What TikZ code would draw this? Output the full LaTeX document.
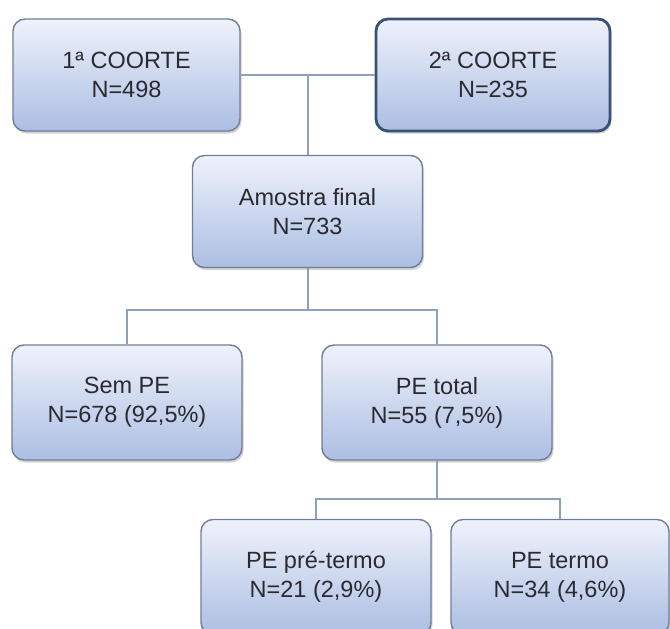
\documentclass[tikz,border=0pt]{standalone}
\usepackage{fontspec}
\setmainfont{Liberation Sans}
\usetikzlibrary{shadows,positioning}
\definecolor{boxtop}{RGB}{238,242,251}
\definecolor{boxbot}{RGB}{172,190,227}
\definecolor{boxline}{RGB}{112,126,152}
\definecolor{boxdark}{RGB}{58,82,118}
\definecolor{wirecol}{RGB}{142,160,188}
\definecolor{txt}{RGB}{42,42,48}

\begin{document}
\begin{tikzpicture}[
    x=1pt, y=-1pt,
    %
    block/.style={draw=boxline, line width=1.4pt, rectangle, rounded corners=12pt,
                  top color=boxtop, bottom color=boxbot,
                  minimum width=230pt, minimum height=112pt,
                  align=center, text=txt, font=\fontsize{23.5}{29}\selectfont,
                  drop shadow={shadow xshift=1.5pt, shadow yshift=-2.5pt, opacity=0.35}},
    dark/.style={draw=boxdark, line width=2.8pt},
    %
    wire/.style={draw=wirecol, line width=2pt}
    ]

    \useasboundingbox (0,0) rectangle (670,629);

    \node[block, minimum width=227pt] (coorte1) at (126.5,75) {1ª COORTE\\N=498};
    \node[block, dark, minimum width=234pt] (coorte2) at (493,75) {2ª COORTE\\N=235};
    \node[block] (amostra) at (307.5,211.5) {Amostra final\\N=733};
    %
    \node[block, minimum height=115pt] (sempe) at (127,402.5) {Sem PE\\N=678 (92,5\%)};
    \node[block, minimum height=115pt] (petotal) at (437,402.5) {PE total\\N=55 (7,5\%)};
    %
    \node[block, minimum height=115pt] (pepre) at (316,577) {PE pré-termo\\N=21 (2,9\%)};
    \node[block, minimum width=218pt, minimum height=115pt] (petermo) at (560,577) {PE termo\\N=34 (4,6\%)};

    % cohorts join into the final sample
    \draw[wire] (coorte1.east) -- (coorte2.west);
    \draw[wire] (amostra.north |- coorte1.east) -- (amostra.north);
    % final sample split
    \draw[wire] (amostra.south) -- ++(0,42) -| (sempe.north);
    \draw[wire] (amostra.south) -- ++(0,42) -| (petotal.north);
    % PE total split
    \draw[wire] (petotal.south) -- ++(0,38) -| (pepre.north);
    \draw[wire] (petotal.south) -- ++(0,38) -| (petermo.north);
    %
\end{tikzpicture}
\end{document}
